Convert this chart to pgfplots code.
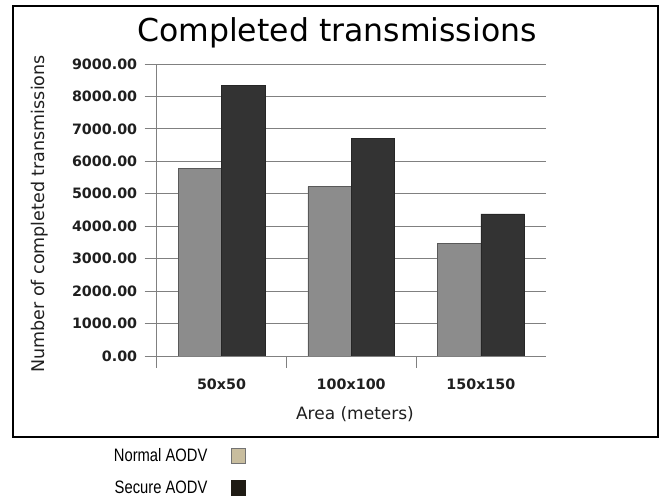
\documentclass[border=0pt]{standalone}
\usepackage{pgfplots}
\pgfplotsset{compat=1.18}
\usepackage{fontspec}
\setmainfont{DejaVu Sans}
\newfontfamily\legfont{Liberation Sans}
\definecolor{normalbar}{HTML}{8C8C8C}
\definecolor{securebar}{HTML}{333333}
\definecolor{gridc}{HTML}{808080}
\definecolor{legnormal}{HTML}{C8BD9E}
\definecolor{legsecure}{HTML}{1F1B14}
\begin{document}
\begin{tikzpicture}
\useasboundingbox (0,0) rectangle (664pt,502pt);
\fill[white] (0,0) rectangle (664pt,502pt);
\draw[line width=2.5pt] (13pt,496pt) rectangle (658pt,65pt);
\begin{axis}[
  at={(156.7pt,146pt)}, anchor=south west,
  width=389pt, height=292pt, scale only axis,
  xmin=-0.5, xmax=2.5, ymin=0, ymax=9000,
  axis x line*=bottom, axis y line*=left,
  axis line style={gridc, line width=0.8pt, -},
  ybar=0pt, bar width=0.335,
  xtick={-0.5,0.5,1.5}, xticklabels={},
  extra x ticks={0,1,2},
  extra x tick labels={50x50,100x100,150x150},
  extra x tick style={major tick length=0pt, grid=none,
    xticklabel style={yshift=-19pt}},
  tick align=outside,
  major tick length=12pt,
  x tick style={gridc, line width=0.8pt},
  y tick style={gridc, line width=0.8pt},
  ytick={0,1000,...,9000},
  ymajorgrids, grid style={gridc, line width=0.8pt},
  ticklabel style={font=\bfseries\fontsize{14.3}{16}\selectfont, text=black!88},
  yticklabel style={xshift=-4pt, /pgf/number format/.cd, fixed, fixed zerofill, precision=2, 1000 sep={}, assume math mode=true},
  legend style={at={(0.2296,-0.308)}, anchor=north east, draw=none, fill=none,
    inner sep=0pt, font=\legfont\fontsize{18}{20}\selectfont, row sep=14pt, column sep=22pt},
  legend cell align=right,
  legend plot pos=right,
  legend image code/.code={\draw[#1] (0pt,-7.5pt) rectangle (14pt,7.5pt);},
]
\addplot[forget plot, bar shift=-0.1675, fill=normalbar, draw=black!65, line width=0.5pt] coordinates {(0,5780) (1,5220) (2,3460)};
\addplot[forget plot, bar shift=0.1675, fill=securebar, draw=black!85, line width=0.5pt] coordinates {(0,8330) (1,6710) (2,4380)};
\addlegendimage{fill=legnormal, draw=black!55}
\addlegendentry{\scalebox{0.82}[1]{Normal AODV}}
\addlegendimage{fill=legsecure, draw=legsecure}
\addlegendentry{\scalebox{0.82}[1]{Secure AODV}}
\end{axis}
\node[anchor=base, font=\fontsize{31.5}{36}\selectfont] at (337pt,460pt) {Completed transmissions};
\node[anchor=base, font=\fontsize{17}{20}\selectfont, text=black!88] at (355pt,82pt) {Area (meters)};
\node[rotate=90, font=\fontsize{17.5}{20}\selectfont, text=black!88] at (40pt,288pt) {Number of completed transmissions};
\end{tikzpicture}
\end{document}
